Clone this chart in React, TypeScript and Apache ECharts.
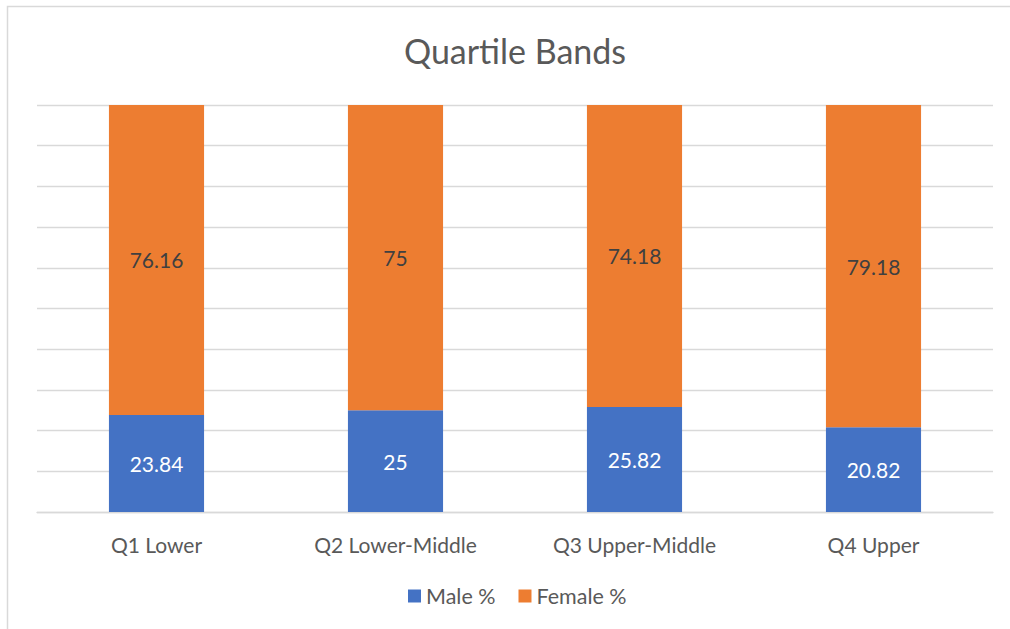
import React, { useEffect, useRef } from "react";
import * as echarts from "echarts";

const categories = ["Q1 Lower", "Q2 Lower-Middle", "Q3 Upper-Middle", "Q4 Upper"];
const maleValues = [23.84, 25, 25.82, 20.82];
const femaleValues = [76.16, 75, 74.18, 79.18];
const seriesNames = ["Male %", "Female %"];
const titleText = "Quartile Bands";

const FONT = "Lato, 'Open Sans', sans-serif";

export default function App() {
  const ref = useRef<HTMLDivElement>(null);
  useEffect(() => {
    if (!ref.current) return;
    const chart = echarts.init(ref.current, null, { renderer: "svg" });
    chart.setOption({
      animation: false,
      backgroundColor: "#ffffff",
      textStyle: { fontFamily: FONT },
      graphic: [
        {
          type: "rect",
          shape: { x: 7.5, y: 6.5, width: 1020, height: 640 },
          style: { fill: "none", stroke: "#d9d9d9", lineWidth: 1.5 },
          silent: true,
        },
        {
          type: "text",
          x: 515,
          y: 50,
          style: {
            text: titleText,
            fontFamily: FONT,
            fontSize: 34,
            fill: "#595959",
            textAlign: "center",
            textVerticalAlign: "middle",
            verticalAlign: "middle",
          },
          silent: true,
        },
      ],
      legend: {
        top: 580,
        left: 403,
        itemWidth: 13,
        itemHeight: 13,
        itemGap: 23,
        icon: "rect",
        textStyle: { fontFamily: FONT, fontSize: 21.5, color: "#595959" },
        data: seriesNames,
      },
      grid: { left: 37, right: 17, top: 105, bottom: 117, containLabel: false },
      xAxis: {
        type: "category",
        data: categories,
        axisLine: { lineStyle: { color: "#d9d9d9", width: 1.3 } },
        axisTick: { show: false },
        axisLabel: {
          fontFamily: FONT,
          fontSize: 21,
          color: "#595959",
          lineHeight: 21,
          margin: 22,
        },
      },
      yAxis: {
        type: "value",
        min: 0,
        max: 100,
        interval: 10,
        axisLabel: { show: false },
        axisLine: { show: false },
        axisTick: { show: false },
        splitLine: { lineStyle: { color: "#d9d9d9", width: 1.3 } },
      },
      series: [
        {
          name: seriesNames[0],
          type: "bar",
          stack: "total",
          barWidth: "39.8%",
          data: maleValues,
          itemStyle: { color: "#4472C4" },
          label: {
            show: true,
            position: "inside",
            fontFamily: FONT,
            fontSize: 21,
            color: "#ffffff",
          },
        },
        {
          name: seriesNames[1],
          type: "bar",
          stack: "total",
          barWidth: "39.8%",
          data: femaleValues,
          itemStyle: { color: "#ED7D31" },
          label: {
            show: true,
            position: "inside",
            fontFamily: FONT,
            fontSize: 21,
            color: "#404040",
          },
        },
      ],
    });
    return () => chart.dispose();
  }, []);
  return (
    <div
      ref={ref}
      style={{ position: "fixed", left: 0, top: 0, width: 1010, height: 629 }}
    />
  );
}
